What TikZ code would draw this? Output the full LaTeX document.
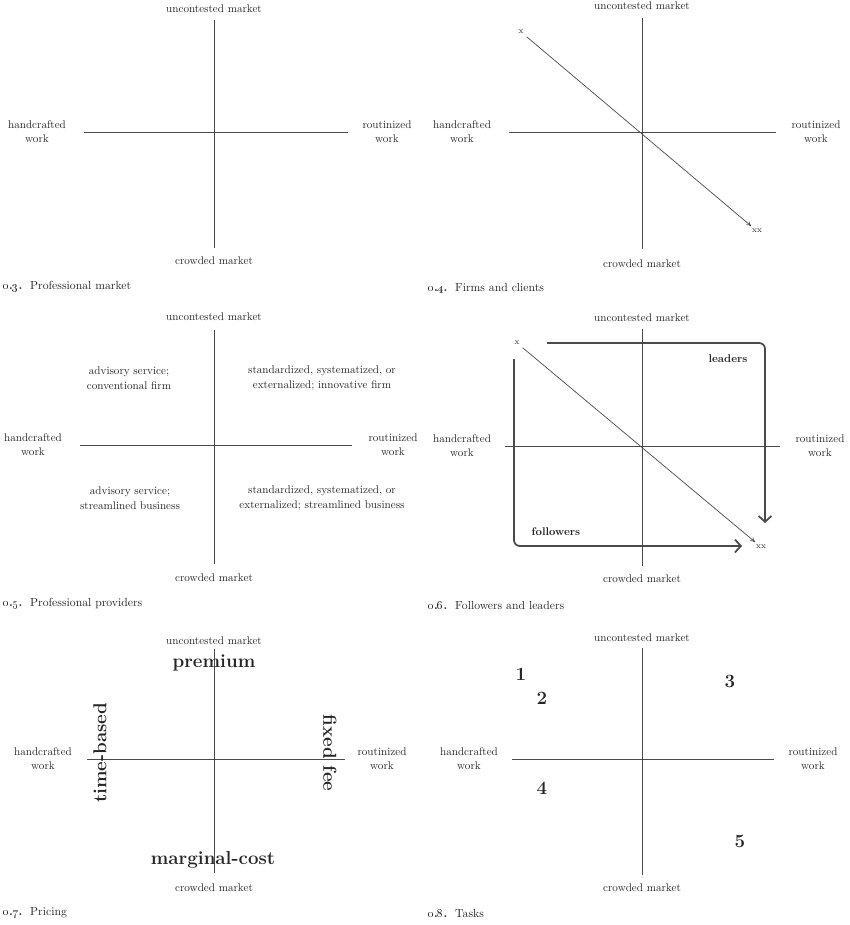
\documentclass[tikz,border=0pt]{standalone}
\usepackage{tikz}
\usetikzlibrary{arrows.meta,positioning,calc}
\usepackage{xcolor}
\definecolor{inkline}{HTML}{4A4A4A}
\definecolor{inktext}{HTML}{262626}
\newcommand{\capnum}[1]{\textbf{\oldstylenums{0}.\oldstylenums{#1}.}\ \ }

\begin{document}
\begin{tikzpicture}[x=0.03cm, y=-0.03cm,
  axis/.style={inkline, line width=0.6pt},
  axlabel/.style={inktext, align=center, inner sep=1pt, font=\fontsize{9.5}{12}\selectfont},
  quadtext/.style={inktext, align=center, inner sep=1pt, font=\fontsize{9.5}{12.5}\selectfont},
  figcap/.style={inktext, anchor=west, inner sep=0pt, font=\fontsize{10}{12}\selectfont},
  endtag/.style={inktext, inner sep=2.5pt, font=\fontsize{7}{8}\selectfont},
  diag/.style={-{To[length=4pt,width=4pt]}, inkline, line width=0.6pt},
  movepath/.style={-{Straight Barb[length=5pt,width=11pt]}, inkline, line width=1.5pt, rounded corners=5pt},
  moveword/.style={inktext, inner sep=1pt, font=\fontsize{9.5}{12}\selectfont\bfseries},
  bigword/.style={inktext, inner sep=0pt, font=\fontsize{16}{18}\selectfont\bfseries},
  tasknum/.style={inktext, inner sep=0pt, font=\fontsize{16}{18}\selectfont\bfseries}]
  \useasboundingbox (0,0) rectangle (850,925);

  % Axes and axis labels of each panel
  \foreach \pn/\cx/\cy/\xa/\xb/\ya/\yb/\yu/\yc/\hx/\rx in {
      a/214/132/84/348/20/248/9/261/37/387,
      b/642/132/509/776/18/249/6/264/462/816,
      c/214/445/80/352/330/564/317/578/33/393,
      d/642/446/505/780/329/566/318/579/462/820,
      e/214/759/87/345/649/873/641/888/43/382,
      f/642/759/512/774/648/875/638/888/469/813} {
    \draw[axis] (\xa,\cy) -- (\xb,\cy);
    \draw[axis] (\cx,\ya) -- (\cx,\yb);
    \node[axlabel] (\pn-up) at (\cx,\yu) {uncontested market};
    \node[axlabel] (\pn-down) at (\cx,\yc) {crowded market};
    \node[axlabel] (\pn-hand) at (\hx,\cy) {handcrafted\\work};
    \node[axlabel] (\pn-rout) at (\rx,\cy) {routinized\\work};
  }

  % Captions
  \node[figcap] (a-cap) at (3,287) {\capnum{3}Professional market};
  \node[figcap] (b-cap) at (428,289) {\capnum{4}Firms and clients};
  \node[figcap] (c-cap) at (3,604) {\capnum{5}Professional providers};
  \node[figcap] (d-cap) at (428,605) {\capnum{6}Followers and leaders};
  \node[figcap] (e-cap) at (3,913) {\capnum{7}Pricing};
  \node[figcap] (f-cap) at (428,913) {\capnum{8}Tasks};

  % Firms and clients
  \node[endtag] (b-x) at (521,32) {x};
  \node[endtag] (b-xx) at (757,231) {xx};
  \draw[diag] (b-x) -- (b-xx);

  % Professional providers
  \node[quadtext] (c-ul) at (129,378) {advisory service;\\conventional firm};
  \node[quadtext] (c-ur) at (322,378) {standardized, systematized, or\\externalized; innovative firm};
  \node[quadtext] (c-ll) at (130,498) {advisory service;\\streamlined business};
  \node[quadtext] (c-lr) at (322,498) {standardized, systematized, or\\externalized; streamlined business};

  % Followers and leaders
  \node[endtag] (d-x) at (517,343) {x};
  \node[endtag] (d-xx) at (761,547) {xx};
  \draw[diag] (d-x) -- (d-xx);
  \coordinate (d-lead-start) at (547,343);
  \coordinate (d-lead-end) at (765,523);
  \draw[movepath] (d-lead-start) -| (d-lead-end);
  \coordinate (d-fol-start) at (514,359);
  \coordinate (d-fol-end) at (742,546);
  \draw[movepath] (d-fol-start) |- (d-fol-end);
  \node[moveword] (d-leaders) at (728,359) {leaders};
  \node[moveword] (d-followers) at (556,532) {followers};

  % Pricing
  \node[bigword] (e-prem) at (214,663) {premium};
  \node[bigword] (e-marg) at (213,860) {marginal-cost};
  \node[bigword, rotate=90] (e-time) at (100,753) {time-based};
  \node[bigword, rotate=-90] (e-fixed) at (330,753) {fixed fee};

  % Tasks
  \foreach \n/\x/\y in {1/521/674, 2/542/698, 3/730/681, 4/542/788, 5/740/841} {
    \node[tasknum] (f-\n) at (\x,\y) {\n};
  }
\end{tikzpicture}
\end{document}
